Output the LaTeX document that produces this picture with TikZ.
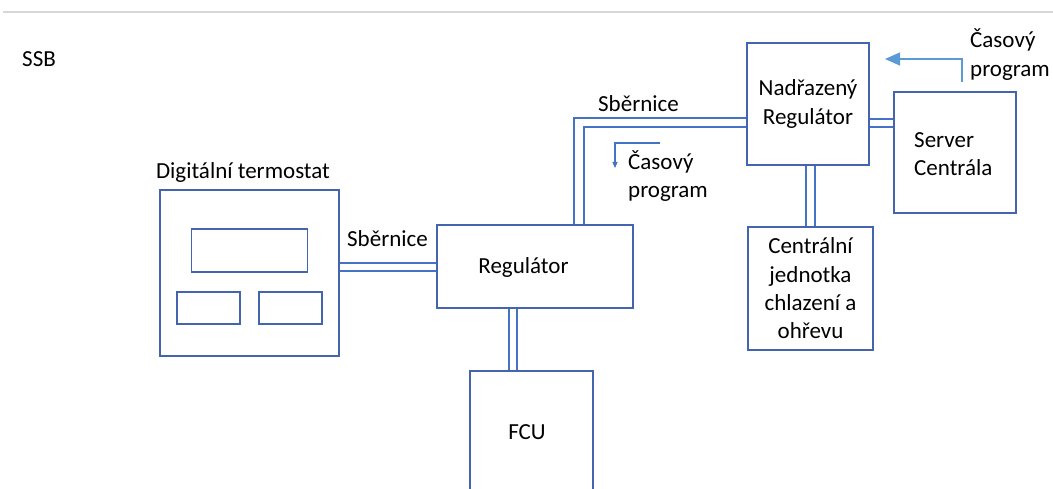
\documentclass[tikz,border=0pt]{standalone}
\usepackage{fontspec}
\setmainfont{Carlito}
\usetikzlibrary{arrows.meta}
\definecolor{boxc}{RGB}{68,100,175}
\definecolor{linec}{RGB}{68,114,196}
\definecolor{arrc}{RGB}{91,155,213}
\definecolor{rulec}{RGB}{215,215,215}
\begin{document}
\begin{tikzpicture}[x=1pt,y=-1pt,
  every node/.style={font=\fontsize{23}{28.3}\selectfont, text=black},
  bx/.style={draw=boxc, line width=1.4pt, inner sep=0pt},
  txt/.style={inner sep=0pt},
  bus/.style={draw=linec, line width=1.1pt},
  arr/.style={draw=linec, line width=1.1pt}]
\useasboundingbox (0,0) rectangle (1053,489);
\clip (0,0) rectangle (1053,489);
% top rule
\coordinate (r0) at (3,12);
\coordinate (r1) at (1053,12);
\draw[rulec, line width=1.2pt] (r0) -- (r1);
% title
\node[txt, anchor=west] (ssb) at (22,59) {SSB};
% thermostat
\node[bx, minimum width=179pt, minimum height=166pt] (thermo) at (249.5,273) {};
\node[bx, minimum width=116pt, minimum height=43pt] (disp) at (249.5,250.5) {};
\node[bx, minimum width=63pt, minimum height=32pt] (btnl) at (208.5,308) {};
\node[bx, minimum width=63pt, minimum height=32pt] (btnr) at (290.5,308) {};
\node[txt] (thlab) at (243,172) {Digitální termostat};
% regulator
\node[bx, minimum width=196pt, minimum height=83pt] (reg) at (535,266.5) {};
\node[txt] (reglab) at (523.5,267) {Regulátor};
% FCU
\node[bx, minimum width=123pt, minimum height=140pt] (fcu) at (531.5,441) {};
\node[txt] (fculab) at (527,432) {FCU};
% superior regulator
\node[bx, minimum width=122pt, minimum height=122pt, align=center] (nad) at (808,104) {Nadřazený\\Regulátor};
% server
\node[bx, minimum width=122pt, minimum height=121pt] (srv) at (955,152.5) {};
\node[txt, align=left, anchor=west] (srvlab) at (914,154) {Server\\Centrála};
% central unit
\node[bx, minimum width=125pt, minimum height=123pt, align=center] (cen) at (810.5,288.5) {Centrální\\jednotka\\chlazení a\\ohřevu};
% buses
\draw[bus] (thermo.east |- 0,263) -- (reg.west |- 0,263);
\draw[bus] (thermo.east |- 0,271) -- (reg.west |- 0,271);
\node[txt] (bus1) at (387.5,239) {Sběrnice};
\draw[bus] (reg.south -| 509,0) -- (fcu.north -| 509,0);
\draw[bus] (reg.south -| 517,0) -- (fcu.north -| 517,0);
\draw[bus] (reg.north -| 574,0) |- (nad.west |- 0,118);
\draw[bus] (reg.north -| 584,0) |- (nad.west |- 0,127);
\node[txt] (bus2) at (638.5,104) {Sběrnice};
\draw[bus] (nad.east |- 0,119) -- (srv.west |- 0,119);
\draw[bus] (nad.east |- 0,127) -- (srv.west |- 0,127);
\draw[bus] (nad.south -| 806,0) -- (cen.north -| 806,0);
\draw[bus] (nad.south -| 815,0) -- (cen.north -| 815,0);
% time program arrows
\coordinate (a0) at (962,82);
\coordinate (a1) at (885,59);
\draw[draw=arrc, line width=1.2pt, -{Triangle[length=15pt,width=13pt]}] (a0) |- (a1);
\node[txt, align=left, anchor=west] (tp1) at (970,54.5) {Časový\\program};
\coordinate (b0) at (660,143);
\coordinate (b1) at (615,168);
\draw[arr, -{Triangle[length=6pt,width=5pt]}] (b0) -| (b1);
\node[txt, align=left, anchor=west] (tp2) at (628,176) {Časový\\program};
\end{tikzpicture}
\end{document}
